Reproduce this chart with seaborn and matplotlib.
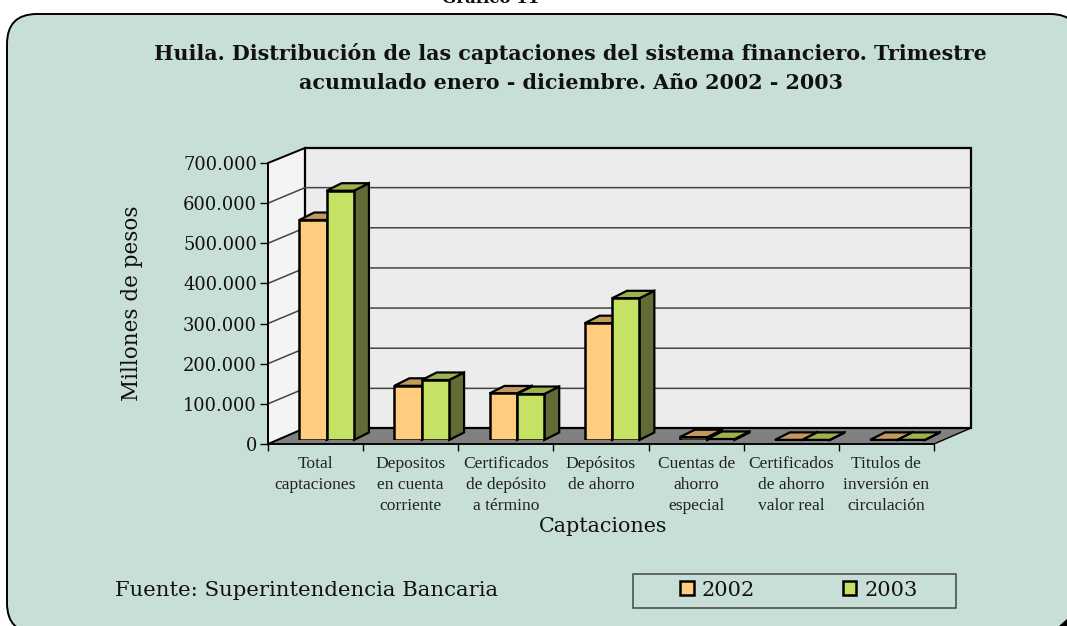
import pandas as pd
import seaborn as sns
import matplotlib
matplotlib.use("Agg")
import matplotlib.pyplot as plt
from matplotlib.patches import FancyBboxPatch, Polygon, Rectangle

# Data
categorias = ["Total\ncaptaciones", "Depositos\nen cuenta\ncorriente", "Certificados\nde depósito\na término",
              "Depósitos\nde ahorro", "Cuentas de\nahorro\nespecial", "Certificados\nde ahorro\nvalor real",
              "Titulos de\ninversión en\ncirculación"]
valores_2002 = [548000, 135000, 116000, 291000, 7000, 300, 300]
valores_2003 = [621000, 149500, 114500, 353000, 2500, 300, 300]
anios = ["2002", "2003"]
ticks_y = [0, 100000, 200000, 300000, 400000, 500000, 600000, 700000]
etiquetas_y = ["0", "100.000", "200.000", "300.000", "400.000", "500.000", "600.000", "700.000"]

W, H = 1067, 626
PX_X = 666 / 7          # pixels per category
PX_Y = 281 / 700000     # pixels per peso

df = pd.DataFrame({
    "captacion": categorias * 2,
    "valor": valores_2002 + valores_2003,
    "anio": [anios[0]] * 7 + [anios[1]] * 7,
})

sns.set_theme(style="white")
plt.rcParams["font.family"] = ["DejaVu Serif"]

fig = plt.figure(figsize=(W / 100, H / 100), dpi=100, facecolor="white")

def caja(x0, y_top, x1, y_bot):
    return [x0 / W, 1 - y_bot / H, (x1 - x0) / W, (y_bot - y_top) / H]

# Panel, walls and floor in pixel space
bg = fig.add_axes([0, 0, 1, 1], zorder=0)
bg.set_xlim(0, W)
bg.set_ylim(H, 0)
bg.axis("off")
bg.add_patch(FancyBboxPatch((37, 44), 1013, 559, boxstyle="round,pad=30,rounding_size=30",
                            fc="#C8DFD7", ec="black", lw=1.4, clip_on=True))
bg.add_patch(Polygon([(1067, 619), (1067, 626), (1059, 626)], fc="black", ec="none"))
bg.add_patch(Polygon([(268, 444), (305, 428), (971, 428), (934, 444)], fc="#808080", ec="black", lw=1))
bg.add_patch(Polygon([(268, 444), (305, 428), (305, 148), (268, 163)], fc="#F4F4F4", ec="black", lw=1.4))
bg.add_patch(Polygon([(305, 428), (305, 148), (971, 148), (971, 428)], fc="#ECECEC", ec="black", lw=1.6))
for t in ticks_y[1:-1]:
    y_front = 444 - t * PX_Y
    bg.plot([268, 305, 971], [y_front, y_front - 15.5, y_front - 15.5], color="#444444", lw=1.1)
bg.add_patch(Rectangle((633, 574), 323, 34, fc="none", ec="#444444", lw=1.1))

bg.text(491, 3, "Gráfico 11", ha="center", va="baseline", fontsize=12, fontweight="bold", color="#111111")
bg.text(570, 53, "Huila. Distribución de las captaciones del sistema financiero. Trimestre",
        ha="center", va="center", fontsize=14.9, fontweight="bold", color="#111111")
bg.text(571, 83, "acumulado enero - diciembre. Año 2002 - 2003",
        ha="center", va="center", fontsize=14.9, fontweight="bold", color="#111111")
bg.text(603, 526, "Captaciones", ha="center", va="center", fontsize=14.9, color="#111111")
bg.text(132, 303, "Millones de pesos", ha="center", va="center", rotation=90, fontsize=15.5, color="#111111")
bg.text(115, 591, "Fuente: Superintendencia Bancaria", ha="left", va="center", fontsize=15.3, color="#111111")

# Front plane: value axis and category ticks
ax = fig.add_axes(caja(268, 163, 934, 444), zorder=1)
ax.patch.set_visible(False)
ax.set_xlim(-0.5, 6.5)
ax.set_ylim(0, 700000)
ax.set_yticks(ticks_y, etiquetas_y, fontsize=12.9, color="#111111")
ax.set_xticks([i - 0.5 for i in range(8)], [""] * 8)
ax.set_xticks(range(7), categorias, minor=True, fontsize=12.6, color="#222222",
              fontfamily="Liberation Serif", linespacing=1.38)
ax.tick_params(axis="x", which="major", length=5, width=1, color="black", direction="out", bottom=True)
ax.tick_params(axis="x", which="minor", length=0, pad=9)
ax.tick_params(axis="y", length=6, width=1, color="black", direction="out", left=True, pad=2)
sns.despine(ax=ax, top=True, right=True)
for s in ["left", "bottom"]:
    ax.spines[s].set_color("black")
    ax.spines[s].set_linewidth(1.2)

# Bars, set slightly into the depth of the floor
ax_bars = fig.add_axes(caja(279, 159, 945, 440), zorder=2)
sns.barplot(data=df, x="captacion", y="valor", hue="anio", palette=["#FFCC80", "#C6E264"], saturation=1,
            width=0.575, gap=0, edgecolor="black", linewidth=1.8, ax=ax_bars)
ax_bars.set_xlim(-0.5, 6.5)
ax_bars.set_ylim(0, 700000)
ax_bars.patch.set_visible(False)

DX = 15 / PX_X
DY = 7.5 / PX_Y
techos = ["#C49A5C", "#9CB24E"]
lados = ["#7F6A3C", "#636B35"]
for j, cont in enumerate(ax_bars.containers):
    for bar in cont:
        x0, x1, h = bar.get_x(), bar.get_x() + bar.get_width(), bar.get_height()
        bar.set_zorder(3 + 2 * j)
        ax_bars.add_patch(Polygon([(x1, 0), (x1 + DX, DY), (x1 + DX, h + DY), (x1, h)], fc=lados[j], ec="black",
                                  lw=1.6, zorder=2 + 2 * j, clip_on=False))
        ax_bars.add_patch(Polygon([(x0, h), (x0 + DX, h + DY), (x1 + DX, h + DY), (x1, h)], fc=techos[j], ec="black",
                                  lw=1.6, zorder=2 + 2 * j, clip_on=False))

# Legend from the seaborn handles
handles, labels = ax_bars.get_legend_handles_labels()
ax_bars.get_legend().remove()
ax_bars.axis("off")
leg = fig.legend(handles, labels, ncol=2, loc="center", bbox_to_anchor=(799 / W, 1 - 590 / H), fontsize=15,
                 frameon=False, handlelength=0.65, handleheight=0.65, handletextpad=0.4, columnspacing=4.2,
                 borderpad=0, borderaxespad=0, labelcolor="#111111")

fig.savefig("out.png", dpi=100)
